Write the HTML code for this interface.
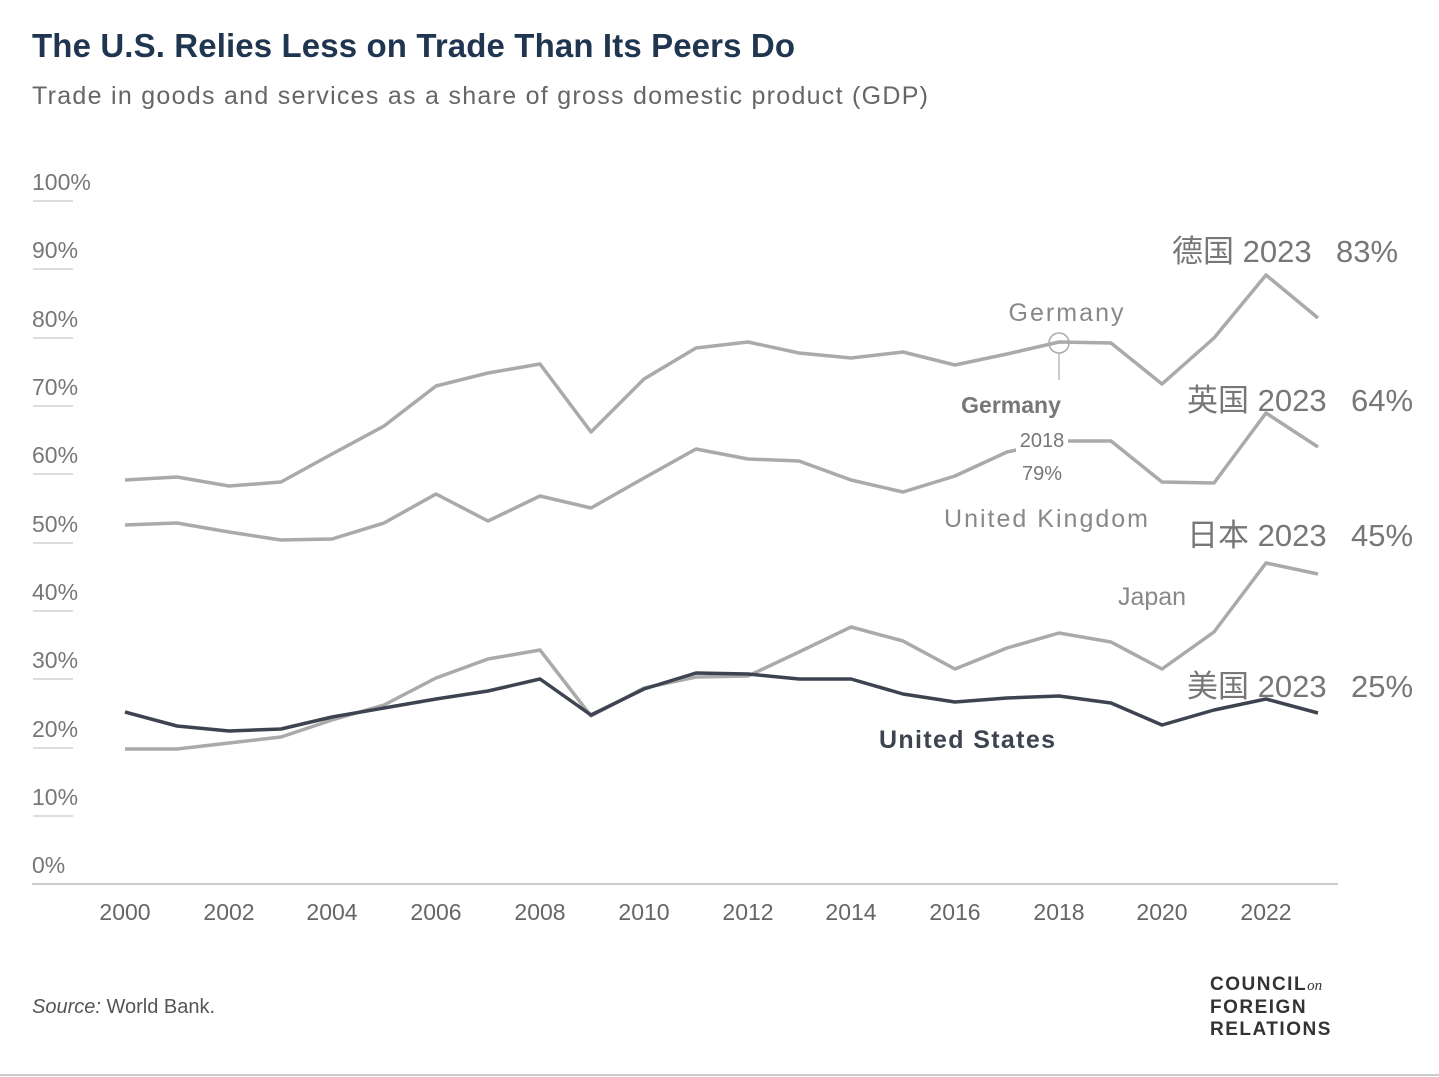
<!DOCTYPE html>
<html><head><meta charset="utf-8"><style>
html,body{margin:0;padding:0;background:#fff;width:1439px;height:1077px;overflow:hidden}
svg{display:block}
text{font-family:"Liberation Sans","Noto Sans CJK SC",sans-serif}
</style></head><body>
<svg width="1439" height="1077" viewBox="0 0 1439 1077">
<text x="32" y="57" font-size="33" fill="#1f3550" font-weight="bold" textLength="763">The U.S. Relies Less on Trade Than Its Peers Do</text>
<text x="32" y="104" font-size="25" fill="#666" textLength="896">Trade in goods and services as a share of gross domestic product (GDP)</text>
<g font-size="23" fill="#777">
<text x="32" y="190">100%</text><text x="32" y="258">90%</text><text x="32" y="327">80%</text><text x="32" y="395">70%</text><text x="32" y="463">60%</text><text x="32" y="532">50%</text><text x="32" y="600">40%</text><text x="32" y="668">30%</text><text x="32" y="737">20%</text><text x="32" y="805">10%</text><text x="32" y="873">0%</text>
</g>
<g stroke="#ddd" stroke-width="2">
<line x1="33" y1="201" x2="73" y2="201"/><line x1="33" y1="269" x2="73" y2="269"/><line x1="33" y1="338" x2="73" y2="338"/><line x1="33" y1="406" x2="73" y2="406"/><line x1="33" y1="474" x2="73" y2="474"/><line x1="33" y1="543" x2="73" y2="543"/><line x1="33" y1="611" x2="73" y2="611"/><line x1="33" y1="679" x2="73" y2="679"/><line x1="33" y1="748" x2="73" y2="748"/><line x1="33" y1="816" x2="73" y2="816"/>
</g>
<line x1="32" y1="884" x2="1338" y2="884" stroke="#ccc" stroke-width="2"/>
<g font-size="23" fill="#666" text-anchor="middle">
<text x="125" y="920">2000</text><text x="229" y="920">2002</text><text x="332" y="920">2004</text><text x="436" y="920">2006</text><text x="540" y="920">2008</text><text x="644" y="920">2010</text><text x="748" y="920">2012</text><text x="851" y="920">2014</text><text x="955" y="920">2016</text><text x="1059" y="920">2018</text><text x="1162" y="920">2020</text><text x="1266" y="920">2022</text>
</g>
<g fill="none" stroke-width="3.5" stroke-linejoin="round">
<polyline stroke="#aaa" points="125,480 177,477 229,486 281,482 332,454 384,426 436,386 488,373 540,364 591,432 644,379 696,348 748,342 799,353 851,358 903,352 955,365 1007,354 1059,342 1111,343 1162,384 1214,338 1266,275 1318,318"/>
<polyline stroke="#aaa" points="125,525 177,523 229,532 281,540 332,539 384,523 436,494 488,521 540,496 591,508 644,478 696,449 748,459 799,461 851,480 903,492 955,476 1007,452 1059,441 1111,441 1162,482 1214,483 1266,413 1318,447"/>
<polyline stroke="#aaa" points="125,749 177,749 229,743 281,737 332,720 384,705 436,678 488,659 540,650 591,716 644,688 696,677 748,676 799,652 851,627 903,641 955,669 1007,648 1059,633 1111,642 1162,669 1214,632 1266,563 1318,574"/>
<polyline stroke="#3d4450" points="125,712 177,726 229,731 281,729 332,717 384,708 436,699 488,691 540,679 591,715 644,689 696,673 748,674 799,679 851,679 903,694 955,702 1007,698 1059,696 1111,703 1162,725 1214,710 1266,699 1318,713"/>
</g>
<rect x="1016" y="428" width="52" height="24" fill="#fff"/>
<rect x="1016" y="460" width="52" height="24" fill="#fff"/>
<circle cx="1059" cy="343" r="10" fill="none" stroke="#aaa" stroke-width="1.5"/>
<line x1="1059" y1="353" x2="1059" y2="380" stroke="#bbb" stroke-width="1.5"/>
<text x="1011" y="413" font-size="23" fill="#777" font-weight="bold" text-anchor="middle">Germany</text>
<text x="1042" y="447" font-size="20" fill="#777" text-anchor="middle">2018</text>
<text x="1042" y="480" font-size="20" fill="#777" text-anchor="middle">79%</text>
<g font-size="25" fill="#888" text-anchor="middle">
<text x="1066" y="321" textLength="115">Germany</text>
<text x="1046" y="527" textLength="204">United Kingdom</text>
<text x="1152" y="605">Japan</text>
</g>
<text x="967" y="748" font-size="25" fill="#3d4450" font-weight="bold" text-anchor="middle" textLength="176">United States</text>
<g font-size="31" fill="#777">
<text x="1172" y="262">德国 2023</text><text x="1336" y="262">83%</text>
<text x="1187" y="411">英国 2023</text><text x="1351" y="411">64%</text>
<text x="1187" y="546">日本 2023</text><text x="1351" y="546">45%</text>
<text x="1187" y="697">美国 2023</text><text x="1351" y="697">25%</text>
</g>
<text x="32" y="1013" font-size="20" fill="#555" font-family="Liberation Serif,serif"><tspan font-style="italic">Source:</tspan> World Bank.</text>
<g font-size="19" fill="#333" font-weight="bold" letter-spacing="1.5">
<text x="1210" y="990">COUNCIL<tspan font-style="italic" font-family="Liberation Serif,serif" font-weight="normal" font-size="15" letter-spacing="0">on</tspan></text>
<text x="1210" y="1013">FOREIGN</text>
<text x="1210" y="1035">RELATIONS</text>
</g>
<line x1="0" y1="1075" x2="1439" y2="1075" stroke="#ccc" stroke-width="2"/>
</svg>
</body></html>
